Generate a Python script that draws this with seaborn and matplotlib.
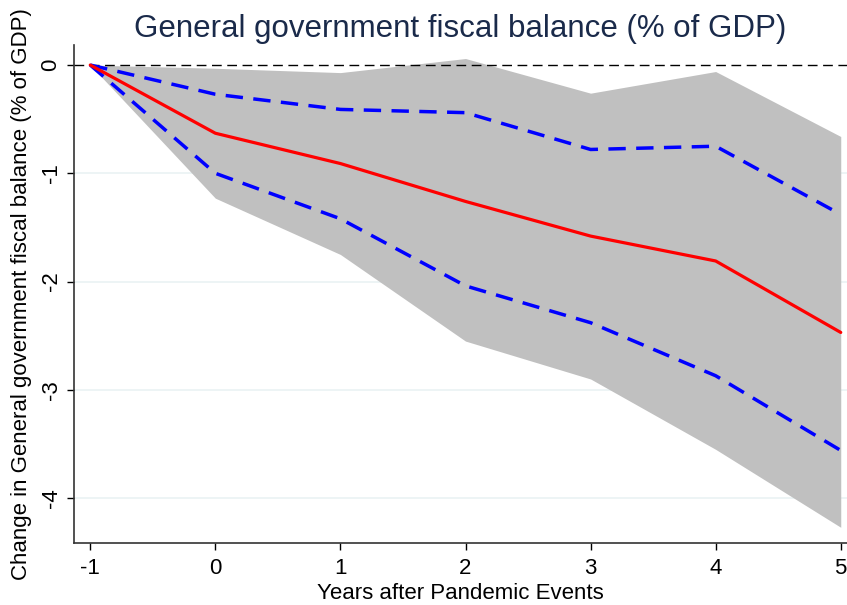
import numpy as np
import pandas as pd
import seaborn as sns
import matplotlib.pyplot as plt

# data
years = [-1, 0, 1, 2, 3, 4, 5]
estimate = [0.0, -0.63, -0.91, -1.26, -1.58, -1.81, -2.47]
ci_upper_inner = [0.0, -0.27, -0.41, -0.44, -0.78, -0.75, -1.38]
ci_lower_inner = [0.0, -1.00, -1.42, -2.04, -2.38, -2.87, -3.56]
ci_upper_outer = [0.0, -0.03, -0.07, 0.06, -0.26, -0.06, -0.66]
ci_lower_outer = [0.0, -1.23, -1.75, -2.55, -2.90, -3.55, -4.27]

df = pd.DataFrame({"year": years, "est": estimate,
                   "up": ci_upper_inner, "lo": ci_lower_inner})

sns.set_style("white")
plt.rcParams['font.family'] = ['Liberation Sans', 'DejaVu Sans']
plt.rcParams['axes.unicode_minus'] = False

fig = plt.figure(figsize=(8.47, 6.05), dpi=100)
ax = fig.add_axes([74 / 847, 62 / 605, 773 / 847, 498 / 605])

for yv in [-1, -2, -3, -4]:
    ax.axhline(yv, color='#eaf2f3', lw=1.2, zorder=0)

ax.fill_between(years, ci_lower_outer, ci_upper_outer, color='#c0c0c0', lw=0, zorder=1)
ax.axhline(0, color='black', lw=1, dashes=(7, 4), zorder=2)
sns.lineplot(data=df, x="year", y="up", color='blue', lw=2.5, ax=ax, zorder=3)
sns.lineplot(data=df, x="year", y="lo", color='blue', lw=2.5, ax=ax, zorder=3)
for line in ax.lines[-2:]:
    line.set_dashes((5, 3))
sns.lineplot(data=df, x="year", y="est", color='red', lw=2.3, ax=ax, zorder=4)

ax.set_xlim(-1.13, 5.05)
ax.set_ylim(-4.415, 0.185)
ax.set_xticks(years)
ax.set_yticks([0, -1, -2, -3, -4])
ax.tick_params(axis='both', direction='out', length=5, width=1, labelsize=16,
               color='black', labelcolor='black')
ax.tick_params(axis='x', pad=6)
ax.tick_params(axis='y', pad=4)
ax.tick_params(left=True, bottom=True)
for lab in ax.get_yticklabels():
    lab.set_rotation(90)
    lab.set_va('center')

for s in ['top', 'right']:
    ax.spines[s].set_visible(False)
for s in ['left', 'bottom']:
    ax.spines[s].set_color('#333333')
    ax.spines[s].set_linewidth(1.2)

ax.set_title('General government fiscal balance (% of GDP)', size=22.5, color='#1a2a4a', pad=6)
ax.set_xlabel('Years after Pandemic Events', size=16, labelpad=3, color='black')
ax.set_ylabel('Change in General government fiscal balance (% of GDP)', size=16,
              labelpad=6, color='black')

plt.savefig('out.png', dpi=100)
